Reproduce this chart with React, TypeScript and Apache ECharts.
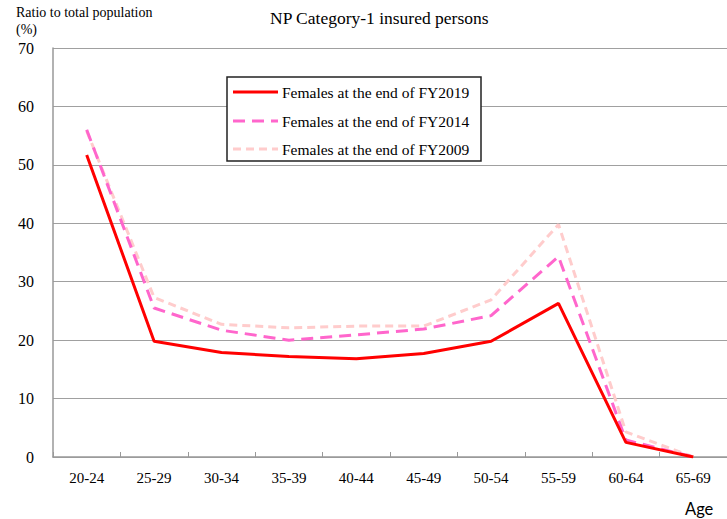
import React, { useEffect, useRef } from "react";
import * as echarts from "echarts";

const categories = ["20-24", "25-29", "30-34", "35-39", "40-44", "45-49", "50-54", "55-59", "60-64", "65-69"];
const fy2019 = [51.7, 19.8, 17.9, 17.2, 16.8, 17.7, 19.8, 26.3, 2.5, 0];
const fy2014 = [56.0, 25.5, 21.7, 20.0, 20.9, 21.9, 24.2, 34.3, 2.9, 0];
const fy2009 = [55.8, 27.3, 22.7, 22.1, 22.4, 22.4, 26.9, 39.8, 4.3, 0];
const seriesNames = ["Females at the end of FY2019", "Females at the end of FY2014", "Females at the end of FY2009"];
const seriesColors = ["#FF0000", "#FF66CC", "#FFCCCC"];
const seriesDash: (string | number[])[] = ["solid", [12, 7], [8, 5]];

const SERIF = "'Liberation Serif', 'Times New Roman', serif";

export default function App() {
  const ref = useRef<HTMLDivElement>(null);
  useEffect(() => {
    if (!ref.current) return;
    const chart = echarts.init(ref.current, undefined, { renderer: "svg" });

    const legendX = 227;
    const legendY = 77;
    const rowY = [92, 121, 149];
    const legendGraphics: any[] = [
      {
        type: "rect",
        shape: { x: legendX, y: legendY, width: 254, height: 84 },
        style: { fill: "#fff", stroke: "#222", lineWidth: 1.5 },
        z: 10,
      },
    ];
    seriesNames.forEach((name, i) => {
      legendGraphics.push({
        type: "line",
        shape: { x1: 233, y1: rowY[i], x2: 278, y2: rowY[i] },
        style: { stroke: seriesColors[i], lineWidth: 3, lineDash: seriesDash[i] === "solid" ? null : seriesDash[i] },
        z: 11,
      });
      legendGraphics.push({
        type: "text",
        x: 282,
        y: rowY[i],
        style: { text: name, font: `15.5px ${SERIF}`, fill: "#000", verticalAlign: "middle" },
        z: 11,
      });
    });

    chart.setOption({
      animation: false,
      backgroundColor: "#fff",
      grid: { left: 53, right: 0, top: 48, bottom: 62, containLabel: false },
      graphic: [
        { type: "text", left: 270, top: 9, style: { text: "NP Category-1 insured persons", font: `17.5px ${SERIF}`, fill: "#000" } },
        { type: "text", left: 16, top: 5, style: { text: "Ratio to total population", font: `14px ${SERIF}`, fill: "#000" } },
        { type: "text", left: 16, top: 22, style: { text: "(%)", font: `14px ${SERIF}`, fill: "#000" } },
        { type: "text", left: 685, top: 500, style: { text: "Age", font: "16.5px Lato, 'Open Sans', sans-serif", fill: "#000" } },
        ...legendGraphics,
      ],
      xAxis: {
        type: "category",
        data: categories,
        boundaryGap: true,
        axisLine: { show: true, lineStyle: { color: "#999", width: 1.5 } },
        axisTick: { show: true, inside: true, length: 5, lineStyle: { color: "#999" } },
        axisLabel: { fontFamily: SERIF, fontSize: 15, color: "#000", margin: 13 },
        splitLine: { show: false },
      },
      yAxis: {
        type: "value",
        min: 0,
        max: 70,
        interval: 10,
        axisLine: { show: true, lineStyle: { color: "#999", width: 1.5 } },
        axisTick: { show: false },
        axisLabel: { fontFamily: SERIF, fontSize: 16, color: "#000", margin: 19 },
        splitLine: { show: true, lineStyle: { color: "#a0a0a0", width: 1.2 } },
      },
      series: [
        {
          name: seriesNames[2],
          type: "line",
          data: fy2009,
          symbol: "none",
          lineStyle: { color: seriesColors[2], width: 3, type: seriesDash[2] },
          z: 2,
        },
        {
          name: seriesNames[1],
          type: "line",
          data: fy2014,
          symbol: "none",
          lineStyle: { color: seriesColors[1], width: 3, type: seriesDash[1] },
          z: 3,
        },
        {
          name: seriesNames[0],
          type: "line",
          data: fy2019,
          symbol: "none",
          lineStyle: { color: seriesColors[0], width: 3 },
          z: 4,
        },
      ],
    });
    return () => chart.dispose();
  }, []);
  return <div ref={ref} style={{ position: "fixed", left: 0, top: 0, width: 727, height: 519 }} />;
}
